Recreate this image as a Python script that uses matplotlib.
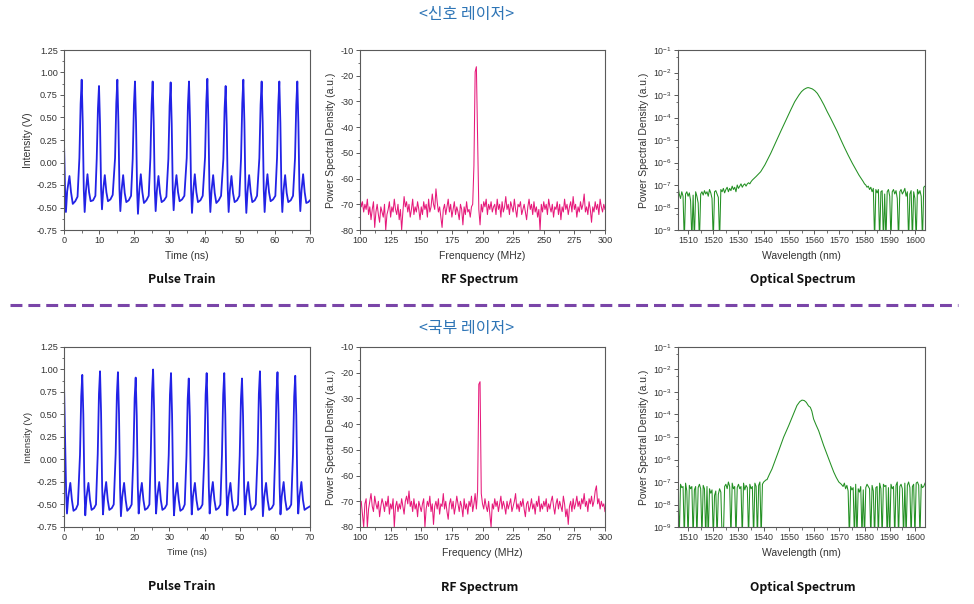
import numpy as np
import matplotlib
matplotlib.use('Agg')
import matplotlib.pyplot as plt
import matplotlib.ticker as mticker
from matplotlib.lines import Line2D

plt.rcParams['font.family'] = ['Liberation Sans', 'DejaVu Sans']
plt.rcParams['axes.unicode_minus'] = False
plt.rcParams['axes.linewidth'] = 0.8

# --- DATA ---
row_titles = ['<신호 레이저>', '<국부 레이저>']
panel_names = ['Pulse Train', 'RF Spectrum', 'Optical Spectrum']
rf_xlabels = ['Frenquency (MHz)', 'Frequency (MHz)']

# pulse train, signal laser (ns, V)
pulse_sig_t = [
    0.0, 0.3, 0.55, 0.9, 1.55, 2.0, 2.5, 3.2, 3.85,
    4.38, 4.73, 5.03, 5.33, 5.63, 5.88, 6.23, 6.68, 7.13, 7.58, 8.28, 8.93,
    9.31, 9.66, 9.96, 10.26, 10.56, 10.81, 11.16, 11.61, 12.06, 12.51, 13.21, 13.86,
    14.53, 14.88, 15.18, 15.48, 15.78, 16.03, 16.38, 16.83, 17.28, 17.73, 18.43, 19.08,
    19.55, 19.9, 20.2, 20.5, 20.8, 21.05, 21.4, 21.85, 22.3, 22.75, 23.45, 24.1,
    24.58, 24.93, 25.23, 25.53, 25.83, 26.08, 26.43, 26.88, 27.33, 27.78, 28.48, 29.13,
    29.7, 30.05, 30.35, 30.65, 30.95, 31.2, 31.55, 32.0, 32.45, 32.9, 33.6, 34.25,
    34.92, 35.27, 35.57, 35.87, 36.17, 36.42, 36.77, 37.22, 37.67, 38.12, 38.82, 39.47,
    40.14, 40.49, 40.79, 41.09, 41.39, 41.64, 41.99, 42.44, 42.89, 43.34, 44.04, 44.69,
    45.35, 45.7, 46.0, 46.3, 46.6, 46.85, 47.2, 47.65, 48.1, 48.55, 49.25, 49.9,
    50.38, 50.73, 51.03, 51.33, 51.63, 51.88, 52.23, 52.68, 53.13, 53.58, 54.28, 54.93,
    55.59, 55.94, 56.24, 56.54, 56.84, 57.09, 57.44, 57.89, 58.34, 58.79, 59.49, 60.14,
    60.62, 60.97, 61.27, 61.57, 61.87, 62.12, 62.47, 62.92, 63.37, 63.82, 64.52, 65.17,
    65.74, 66.09, 66.39, 66.69, 66.99, 67.24, 67.59, 68.04, 68.49, 68.94, 69.5, 70.0,
]
pulse_sig_v = [
    0.22, -0.3, -0.55, -0.32, -0.15, -0.33, -0.46, -0.43, -0.38,
    0.05, 0.65, 0.92, 0.45, -0.3, -0.55, -0.32, -0.13, -0.33, -0.43, -0.42, -0.37,
    0.04, 0.6, 0.85, 0.42, -0.3, -0.52, -0.3, -0.14, -0.33, -0.43, -0.41, -0.36,
    0.05, 0.66, 0.92, 0.45, -0.3, -0.54, -0.31, -0.14, -0.34, -0.44, -0.42, -0.37,
    0.04, 0.64, 0.90, 0.44, -0.31, -0.57, -0.32, -0.13, -0.33, -0.45, -0.42, -0.37,
    0.05, 0.64, 0.90, 0.44, -0.3, -0.54, -0.31, -0.15, -0.34, -0.44, -0.42, -0.38,
    0.04, 0.63, 0.89, 0.43, -0.3, -0.53, -0.3, -0.14, -0.33, -0.43, -0.41, -0.37,
    0.05, 0.64, 0.90, 0.44, -0.31, -0.56, -0.32, -0.13, -0.33, -0.44, -0.42, -0.37,
    0.06, 0.67, 0.93, 0.46, -0.3, -0.55, -0.31, -0.14, -0.34, -0.45, -0.42, -0.37,
    0.04, 0.6, 0.85, 0.42, -0.3, -0.55, -0.31, -0.15, -0.34, -0.44, -0.42, -0.37,
    0.05, 0.66, 0.92, 0.45, -0.31, -0.56, -0.32, -0.14, -0.33, -0.44, -0.42, -0.37,
    0.05, 0.64, 0.90, 0.44, -0.3, -0.55, -0.31, -0.13, -0.33, -0.43, -0.41, -0.37,
    0.05, 0.64, 0.90, 0.44, -0.31, -0.55, -0.31, -0.14, -0.34, -0.44, -0.42, -0.37,
    0.05, 0.64, 0.90, 0.44, -0.3, -0.54, -0.31, -0.13, -0.33, -0.45, -0.44, -0.42,
]

# pulse train, local laser (ns, V)
pulse_loc_t = [
    0.0, 0.3, 0.6, 0.85, 1.2, 1.8, 2.25, 2.7, 3.4, 3.95,
    4.55, 4.9, 5.2, 5.5, 5.8, 6.05, 6.4, 6.95, 7.4, 7.85, 8.55, 9.1,
    9.6, 9.95, 10.25, 10.55, 10.85, 11.1, 11.45, 12.0, 12.45, 12.9, 13.6, 14.15,
    14.7, 15.05, 15.35, 15.65, 15.95, 16.2, 16.55, 17.1, 17.55, 18.0, 18.7, 19.25,
    19.75, 20.1, 20.4, 20.7, 21.0, 21.25, 21.6, 22.15, 22.6, 23.05, 23.75, 24.3,
    24.7, 25.05, 25.35, 25.65, 25.95, 26.2, 26.55, 27.1, 27.55, 28.0, 28.7, 29.25,
    29.8, 30.15, 30.45, 30.75, 31.05, 31.3, 31.65, 32.2, 32.65, 33.1, 33.8, 34.35,
    34.85, 35.2, 35.5, 35.8, 36.1, 36.35, 36.7, 37.25, 37.7, 38.15, 38.85, 39.4,
    39.95, 40.3, 40.6, 40.9, 41.2, 41.45, 41.8, 42.35, 42.8, 43.25, 43.95, 44.5,
    44.95, 45.3, 45.6, 45.9, 46.2, 46.45, 46.8, 47.35, 47.8, 48.25, 48.95, 49.5,
    50.0, 50.35, 50.65, 50.95, 51.25, 51.5, 51.85, 52.4, 52.85, 53.3, 54.0, 54.55,
    55.1, 55.45, 55.75, 56.05, 56.35, 56.6, 56.95, 57.5, 57.95, 58.4, 59.1, 59.65,
    60.1, 60.45, 60.75, 61.05, 61.35, 61.6, 61.95, 62.5, 62.95, 63.4, 64.1, 64.65,
    65.15, 65.5, 65.8, 66.1, 66.4, 66.65, 67.0, 67.55, 68.0, 68.45, 69.15, 70.0,
]
pulse_loc_v = [
    0.84, 0.25, -0.35, -0.6, -0.42, -0.26, -0.45, -0.57, -0.55, -0.5,
    0.05, 0.7, 0.94, 0.5, -0.3, -0.62, -0.42, -0.26, -0.45, -0.56, -0.54, -0.5,
    0.06, 0.73, 0.98, 0.52, -0.3, -0.61, -0.41, -0.25, -0.45, -0.56, -0.54, -0.5,
    0.06, 0.72, 0.97, 0.51, -0.31, -0.63, -0.42, -0.26, -0.45, -0.57, -0.54, -0.5,
    0.04, 0.68, 0.91, 0.48, -0.3, -0.6, -0.41, -0.26, -0.45, -0.56, -0.54, -0.5,
    0.07, 0.75, 1.0, 0.53, -0.3, -0.6, -0.41, -0.25, -0.45, -0.56, -0.54, -0.5,
    0.05, 0.72, 0.96, 0.5, -0.31, -0.62, -0.42, -0.26, -0.45, -0.57, -0.55, -0.5,
    0.04, 0.67, 0.90, 0.48, -0.3, -0.61, -0.41, -0.26, -0.45, -0.56, -0.54, -0.5,
    0.05, 0.72, 0.96, 0.5, -0.3, -0.6, -0.41, -0.25, -0.45, -0.56, -0.54, -0.5,
    0.05, 0.72, 0.96, 0.5, -0.31, -0.62, -0.42, -0.26, -0.45, -0.57, -0.55, -0.5,
    0.04, 0.67, 0.90, 0.48, -0.3, -0.61, -0.41, -0.25, -0.45, -0.56, -0.54, -0.5,
    0.06, 0.73, 0.98, 0.52, -0.31, -0.63, -0.42, -0.26, -0.45, -0.56, -0.54, -0.5,
    0.06, 0.72, 0.97, 0.51, -0.3, -0.61, -0.41, -0.25, -0.45, -0.56, -0.54, -0.5,
    0.05, 0.7, 0.93, 0.49, -0.3, -0.6, -0.41, -0.25, -0.45, -0.56, -0.54, -0.52,
]

# RF spectrum, 1 MHz steps from 100 to 300 MHz (a.u.)
rf_freq = np.arange(100, 301, 1)
rf_sig_psd = [
    -67, -71, -69, -73, -70, -72, -68, -74, -71, -76,
    -72, -69, -79, -73, -70, -74, -77, -71, -73, -75,
    -70, -80, -74, -72, -69, -75, -71, -73, -68, -72,
    -74, -70, -76, -72, -80, -73, -67, -71, -69, -73,
    -70, -75, -72, -68, -74, -71, -73, -69, -72, -76,
    -71, -74, -69, -72, -70, -75, -68, -73, -71, -66,
    -70, -72, -64, -69, -73, -71, -75, -79, -72, -70,
    -74, -71, -68, -73, -70, -75, -72, -69, -74, -71,
    -73, -76, -70, -72, -78, -71, -74, -69, -73, -72,
    -75, -71, -70, -55, -18.5, -16.5, -45, -72, -78, -70,
    -73, -69, -71, -68, -74, -70, -72, -69, -73, -71,
    -70, -74, -68, -72, -70, -75, -69, -73, -71, -67,
    -72, -70, -74, -69, -71, -73, -68, -72, -75, -70,
    -71, -69, -74, -72, -70, -73, -76, -71, -68, -72,
    -70, -74, -69, -73, -71, -75, -72, -80, -70, -73,
    -69, -72, -70, -74, -68, -71, -73, -70, -75, -71,
    -72, -69, -74, -70, -76, -71, -73, -68, -72, -70,
    -74, -71, -69, -73, -67, -72, -70, -75, -71, -73,
    -69, -72, -70, -66, -73, -71, -74, -69, -72, -77,
    -71, -73, -69, -72, -70, -74, -68, -71, -73, -70,
    -72,
]
rf_loc_psd = [
    -72, -70, -75, -80, -71, -69, -80, -73, -70, -67,
    -72, -74, -68, -71, -73, -70, -76, -72, -69, -71,
    -74, -70, -72, -68, -75, -71, -73, -69, -80, -72,
    -70, -74, -71, -73, -69, -72, -75, -70, -68, -71,
    -66, -72, -70, -74, -69, -73, -71, -76, -70, -72,
    -74, -71, -69, -80, -73, -70, -72, -68, -74, -71,
    -79, -72, -70, -73, -69, -75, -71, -72, -67, -73,
    -70, -74, -77, -71, -69, -73, -70, -75, -72, -68,
    -71, -74, -70, -72, -76, -69, -73, -71, -75, -70,
    -72, -68, -74, -71, -67, -73, -66, -24.5, -23.5, -67,
    -71, -73, -69, -72, -74, -70, -75, -80, -71, -73,
    -69, -72, -70, -74, -71, -68, -73, -70, -72, -75,
    -70, -73, -71, -69, -74, -72, -70, -67, -73, -71,
    -74, -70, -72, -69, -73, -76, -71, -70, -74, -72,
    -69, -73, -71, -75, -70, -72, -68, -74, -71, -73,
    -70, -72, -69, -74, -71, -73, -70, -68, -72, -75,
    -71, -69, -73, -70, -72, -74, -68, -71, -76, -73,
    -79, -72, -70, -74, -69, -73, -71, -68, -72, -70,
    -73, -69, -71, -67, -72, -70, -74, -69, -71, -68,
    -72, -70, -66, -64, -71, -69, -73, -70, -72, -71,
    -74,
]

# optical spectrum, log10 of power spectral density
opt_sig_wl_left = np.arange(1506, 1535.25, 0.5)
opt_sig_log_left = [
    -7.05, -7.4, -7.6, -7.3, -7.5, -9.5, -7.4, -7.3, -7.5, -7.35,
    -7.7, -9.5, -7.45, -9.5, -7.3, -7.5, -7.8, -9.5, -7.4, -7.3,
    -7.45, -7.25, -7.4, -7.3, -7.5, -7.2, -7.35, -7.6, -9.5, -7.3,
    -7.25, -7.4, -7.55, -9.5, -7.2, -7.3, -7.15, -7.35, -7.2, -7.1,
    -7.3, -7.15, -7.25, -7.05, -7.2, -7.1, -7.3, -7.0, -7.15, -7.05,
    -6.95, -7.1, -7.0, -6.95, -7.05, -6.95, -6.9, -6.95, -6.85,
]
opt_sig_wl_peak = [
    1535.5, 1537, 1538.8, 1540.5, 1542.8, 1544.7, 1546.7, 1548.7, 1550.7, 1552.3,
    1554, 1555, 1556, 1557, 1557.6, 1558.3, 1559.3, 1560.3, 1561.3, 1562.6,
    1563.9, 1565.2, 1566.6, 1567.9, 1569.2, 1570.5, 1571.9, 1573.5, 1575.2, 1576.5,
    1577.8, 1579.5,
]
opt_sig_log_peak = [
    -6.78, -6.62, -6.41, -6.1, -5.59, -5.12, -4.63, -4.15, -3.67, -3.3,
    -3.0, -2.85, -2.75, -2.69, -2.67, -2.69, -2.73, -2.81, -2.93, -3.17,
    -3.44, -3.74, -4.04, -4.33, -4.63, -4.96, -5.3, -5.67, -6.04, -6.3,
    -6.56, -6.85,
]
opt_sig_wl_right = np.arange(1580, 1604.25, 0.5)
opt_sig_log_right = [
    -6.95, -7.0, -7.1, -7.05, -7.2, -7.1, -7.3, -7.15, -9.5, -7.2,
    -7.35, -7.2, -9.5, -7.3, -7.25, -9.5, -7.4, -9.5, -7.3, -7.2,
    -7.5, -9.5, -7.3, -7.2, -7.4, -7.25, -7.6, -9.5, -7.3, -7.2,
    -7.4, -7.3, -7.15, -7.5, -7.3, -9.5, -7.4, -7.25, -9.5, -7.3,
    -7.6, -9.5, -7.2, -7.4, -7.25, -7.5, -9.5, -7.1, -7.05,
]

opt_loc_wl_left = np.arange(1506, 1541.25, 0.5)
opt_loc_log_left = [
    -7.3, -9.5, -7.1, -7.25, -7.2, -9.5, -7.05, -7.4, -9.5, -7.15,
    -7.3, -7.2, -9.5, -7.35, -7.2, -9.5, -7.25, -7.1, -7.3, -9.5,
    -7.15, -7.3, -9.5, -7.2, -9.5, -7.3, -7.5, -7.35, -9.5, -7.6,
    -7.4, -9.5, -7.55, -7.3, -7.45, -9.5, -9.5, -7.2, -7.1, -7.3,
    -7.0, -7.2, -9.5, -7.05, -7.3, -7.2, -9.5, -7.25, -7.1, -7.3,
    -7.2, -9.5, -7.05, -7.35, -7.15, -7.25, -9.5, -7.1, -7.3, -7.2,
    -9.5, -7.05, -7.2, -9.5, -7.15, -7.0, -9.5, -7.1, -7.0, -6.95,
    -6.9,
]
opt_loc_wl_peak = [
    1541.3, 1542.3, 1543.3, 1544.7, 1546, 1547.9, 1549.9, 1551.9, 1553.2, 1554.3,
    1555.2, 1556.1, 1556.9, 1557.8, 1558.5, 1559.1, 1559.8, 1560.8, 1561.8, 1562.8,
    1563.8, 1564.8, 1565.8, 1566.8, 1567.8, 1568.8, 1569.8, 1570.8,
]
opt_loc_log_peak = [
    -6.9, -6.65, -6.42, -6.0, -5.6, -5.01, -4.5, -3.95, -3.6, -3.43,
    -3.36, -3.38, -3.46, -3.62, -3.68, -3.85, -4.2, -4.47, -4.72, -5.05,
    -5.38, -5.68, -5.97, -6.27, -6.56, -6.8, -7.0, -7.1,
]
opt_loc_wl_right = np.arange(1571.5, 1604.25, 0.5)
opt_loc_log_right = [
    -7.2, -7.05, -7.3, -7.15, -7.4, -9.5, -7.2, -7.35, -7.25, -9.5,
    -7.1, -9.5, -7.3, -7.45, -7.2, -9.5, -7.35, -9.5, -7.25, -7.1,
    -7.2, -7.3, -9.5, -7.15, -7.4, -9.5, -7.25, -7.2, -9.5, -7.05,
    -7.3, -9.5, -7.1, -7.2, -7.15, -9.5, -7.25, -9.5, -7.1, -7.3,
    -7.2, -9.5, -7.15, -7.0, -9.5, -7.2, -7.1, -7.3, -9.5, -7.05,
    -9.5, -7.15, -7.0, -7.25, -9.5, -7.2, -7.1, -9.5, -7.05, -7.0,
    -7.15, -9.5, -7.1, -7.25, -7.2, -7.05,
]

opt_sig_wl = np.concatenate([opt_sig_wl_left, opt_sig_wl_peak, opt_sig_wl_right])
opt_sig_psd = 10.0 ** np.concatenate([opt_sig_log_left, opt_sig_log_peak, opt_sig_log_right])
opt_loc_wl = np.concatenate([opt_loc_wl_left, opt_loc_wl_peak, opt_loc_wl_right])
opt_loc_psd = 10.0 ** np.concatenate([opt_loc_log_left, opt_loc_log_peak, opt_loc_log_right])

# --- FIGURE ---
W, H = 974, 604
fig = plt.figure(figsize=[W / 100, H / 100], dpi=100)


def px_box(x0, y0, x1, y1):
    return [x0 / W, 1 - y1 / H, (x1 - x0) / W, (y1 - y0) / H]


spine_col = '#5a5a5a'
tick_col = '#333333'
title_font = ['Noto Sans CJK KR', 'DejaVu Sans']


def style_axes(ax, fs):
    for s in ax.spines.values():
        s.set_color(spine_col)
        s.set_linewidth(0.8)
    ax.tick_params(which='both', direction='out', top=False, right=False,
                   colors=spine_col, labelcolor=tick_col, labelsize=fs, pad=1.5)
    ax.tick_params(which='major', length=3, width=0.7)
    ax.tick_params(which='minor', length=1.8, width=0.6)


rows = [
    dict(y0=50, y1=230, pulse=(pulse_sig_t, pulse_sig_v), rf=rf_sig_psd,
         opt=(opt_sig_wl, opt_sig_psd), lab_fs=7.5, name_y=280, title_y=15),
    dict(y0=347, y1=527, pulse=(pulse_loc_t, pulse_loc_v), rf=rf_loc_psd,
         opt=(opt_loc_wl, opt_loc_psd), lab_fs=6.8, name_y=587, title_y=328),
]

for i, row in enumerate(rows):
    # -- PULSE TRAIN --
    ax_p = fig.add_axes(px_box(64, row['y0'], 310, row['y1']))
    ax_p.plot(row['pulse'][0], row['pulse'][1], color='#2222e6', lw=1.3)
    ax_p.set_xlim(0, 70)
    ax_p.set_ylim(-0.75, 1.25)
    ax_p.xaxis.set_major_locator(mticker.MultipleLocator(10))
    ax_p.xaxis.set_minor_locator(mticker.MultipleLocator(5))
    ax_p.yaxis.set_major_locator(mticker.MultipleLocator(0.25))
    ax_p.yaxis.set_minor_locator(mticker.MultipleLocator(0.125))
    ax_p.yaxis.set_major_formatter(mticker.FormatStrFormatter('%.2f'))
    style_axes(ax_p, 6.6)
    ax_p.set_xlabel('Time (ns)', fontsize=row['lab_fs'], color=tick_col, labelpad=4)
    ax_p.set_ylabel('Intensity (V)', fontsize=row['lab_fs'], color=tick_col, labelpad=3)

    # -- RF SPECTRUM --
    ax_r = fig.add_axes(px_box(360, row['y0'], 605, row['y1']))
    ax_r.plot(rf_freq, row['rf'], color='#e6197a', lw=0.75)
    ax_r.set_xlim(100, 300)
    ax_r.set_ylim(-80, -10)
    ax_r.xaxis.set_major_locator(mticker.MultipleLocator(25))
    ax_r.xaxis.set_minor_locator(mticker.MultipleLocator(12.5))
    ax_r.yaxis.set_major_locator(mticker.MultipleLocator(10))
    ax_r.yaxis.set_minor_locator(mticker.MultipleLocator(5))
    style_axes(ax_r, 6.6)
    ax_r.set_xlabel(rf_xlabels[i], fontsize=7.5, color=tick_col, labelpad=4)
    ax_r.set_ylabel('Power Spectral Density (a.u.)', fontsize=7.5, color=tick_col, labelpad=3)

    # -- OPTICAL SPECTRUM --
    ax_o = fig.add_axes(px_box(678, row['y0'], 925, row['y1']))
    ax_o.semilogy(row['opt'][0], row['opt'][1], color='#239023', lw=0.75)
    ax_o.set_xlim(1506, 1604)
    ax_o.set_ylim(1e-9, 1e-1)
    ax_o.xaxis.set_major_locator(mticker.MultipleLocator(10))
    ax_o.xaxis.set_minor_locator(mticker.MultipleLocator(5))
    ax_o.yaxis.set_major_locator(mticker.LogLocator(base=10, numticks=12))
    ax_o.yaxis.set_minor_locator(mticker.LogLocator(base=10, subs=(5,), numticks=12))
    ax_o.yaxis.set_minor_formatter(mticker.NullFormatter())
    style_axes(ax_o, 6.4)
    ax_o.set_xlabel('Wavelength (nm)', fontsize=7.5, color=tick_col, labelpad=4)
    ax_o.set_ylabel('Power Spectral Density (a.u.)', fontsize=7.5, color=tick_col, labelpad=3)

    # panel names
    for xc, name in zip([182, 480, 803], panel_names):
        fig.text(xc / W, 1 - row['name_y'] / H, name, ha='center', va='center',
                 fontsize=8.8, fontweight='bold', family=title_font, color='#111111')

    # row title
    fig.text(467 / W, 1 - row['title_y'] / H, row_titles[i], ha='center', va='center',
             fontsize=11.5, family=title_font, color='#2e75b6')

# dashed separator
fig.add_artist(Line2D([10 / W, 958 / W], [1 - 305 / H, 1 - 305 / H], transform=fig.transFigure,
                      color='#7a45a8', lw=2.2, dashes=(3.9, 1.95)))

fig.savefig('out.png', dpi=100)
